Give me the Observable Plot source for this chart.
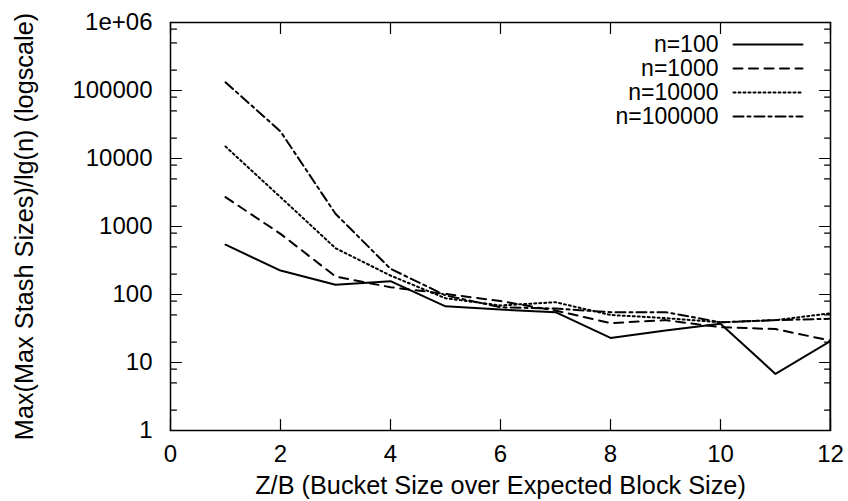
<!DOCTYPE html>
<html>
<head>
<meta charset="utf-8">
<script src="https://cdn.jsdelivr.net/npm/d3@7"></script>
<script src="https://cdn.jsdelivr.net/npm/@observablehq/plot@0.6"></script>
<style>
  html, body { margin: 0; padding: 0; background: #fff; }
  #chart svg { display: block; }
</style>
</head>
<body>
<div id="chart"></div>
<script>
// ---- data ----
const zb = [1, 2, 3, 4, 5, 6, 7, 8, 9, 10, 11, 12];
// n=100 ends with a drop at Z/B = 12 to below the axis minimum
const zb100 = [1, 2, 3, 4, 5, 6, 7, 8, 9, 10, 11, 12, 12];
const n100 = [540, 225, 139, 157, 67, 60, 55, 23, 29.6, 37, 6.8, 20.6, 0.5];
const n1000 = [2700, 780, 184, 128, 102, 80, 58, 38, 42, 33, 31, 21];
const n10000 = [15000, 2700, 480, 190, 88, 69, 77, 50, 45, 39, 42, 53];
const n100000 = [132000, 25000, 1540, 239, 97, 65, 62, 55, 55, 39, 42, 44];

const seriesNames = ["n=100", "n=1000", "n=10000", "n=100000"];
const xTicks = [0, 2, 4, 6, 8, 10, 12];
const yTicks = [1, 10, 100, 1000, 10000, 100000, 1000000];
const yTickLabels = ["1", "10", "100", "1000", "10000", "100000", "1e+06"];
const yMinorMultipliers = [2, 5, 8];
const xLabel = "Z/B (Bucket Size over Expected Block Size)";
const yLabel = "Max(Max Stash Sizes)/lg(n) (logscale)";

// ---- build table ----
const seriesX = [zb100, zb, zb, zb];
const seriesY = [n100, n1000, n10000, n100000];
const rows = [];
seriesNames.forEach((name, s) => {
  seriesY[s].forEach((v, i) => rows.push({series: name, z: seriesX[s][i], v}));
});
const yMinor = [];
yTicks.slice(0, -1).forEach(t => yMinorMultipliers.forEach(m => yMinor.push(t * m)));

// ---- styles ----
const dashes = {"n=100": null, "n=1000": "9,6.5", "n=10000": "2,3", "n=100000": "10,4,3,4"};
const FONT = "'Liberation Sans', Arial, Helvetica, sans-serif";
const FS = 24;
const FS_TITLE = 25.3;
const FS_LEGEND = 23;
const tickShape = {draw(ctx, l) { ctx.moveTo(0, 0); ctx.lineTo(0, -l); }};
const legendRowDy = [22, 46, 70, 94];

const marks = [];
seriesNames.forEach(name => {
  marks.push(Plot.line(rows.filter(r => r.series === name), {
    x: "z", y: "v", stroke: "black", strokeWidth: 2,
    strokeDasharray: dashes[name], clip: true
  }));
});
marks.push(Plot.frame({stroke: "black", strokeWidth: 1.5}));
// tick labels
marks.push(Plot.axisY({
  ticks: yTicks, tickSize: 0, tickPadding: 18, fontSize: FS,
  tickFormat: (d) => yTickLabels[yTicks.indexOf(d)], label: null
}));
marks.push(Plot.axisX({
  ticks: xTicks, tickSize: 0, tickPadding: 14, fontSize: FS,
  tickFormat: d => String(d), label: null
}));
// axis titles
marks.push(Plot.axisY({
  ticks: [], tickSize: 0, fontSize: FS_TITLE,
  label: yLabel, labelAnchor: "center", labelOffset: 155, labelArrow: false
}));
marks.push(Plot.axisX({
  ticks: [], tickSize: 0, fontSize: FS_TITLE,
  label: xLabel, labelAnchor: "center", labelOffset: 63, labelArrow: false
}));
// inward ticks (major + minor, mirrored)
const tickCommon = {anchor: "start", shape: tickShape, stroke: "black", strokeWidth: 1.2};
marks.push(Plot.vector(yTicks, {y: d => d, frameAnchor: "left", rotate: 90, length: 11, ...tickCommon}));
marks.push(Plot.vector(yTicks, {y: d => d, frameAnchor: "right", rotate: -90, length: 11, ...tickCommon}));
marks.push(Plot.vector(yMinor, {y: d => d, frameAnchor: "left", rotate: 90, length: 6, ...tickCommon}));
marks.push(Plot.vector(yMinor, {y: d => d, frameAnchor: "right", rotate: -90, length: 6, ...tickCommon}));
marks.push(Plot.vector(xTicks, {x: d => d, frameAnchor: "bottom", rotate: 0, length: 11, ...tickCommon}));
marks.push(Plot.vector(xTicks, {x: d => d, frameAnchor: "top", rotate: 180, length: 11, ...tickCommon}));
// legend
seriesNames.forEach((name, i) => {
  marks.push(Plot.text([name], {
    text: d => d, frameAnchor: "top-right", dx: -112, dy: legendRowDy[i],
    textAnchor: "end", lineAnchor: "middle", fontSize: FS_LEGEND, fill: "black"
  }));
  marks.push(Plot.vector([name], {
    frameAnchor: "top-right", dx: -28, dy: legendRowDy[i], rotate: 90, length: 69,
    anchor: "end", shape: tickShape, stroke: "black", strokeWidth: 2,
    strokeDasharray: dashes[name]
  }));
});

const chart = Plot.plot({
  width: 848, height: 501,
  marginLeft: 170, marginRight: 18, marginTop: 22, marginBottom: 71,
  style: {fontFamily: FONT, fontSize: FS + "px", color: "black", background: "white"},
  x: {domain: [0, 12]},
  y: {type: "log", domain: [1, 1000000]},
  marks
});
document.getElementById("chart").appendChild(chart);
</script>
</body>
</html>
